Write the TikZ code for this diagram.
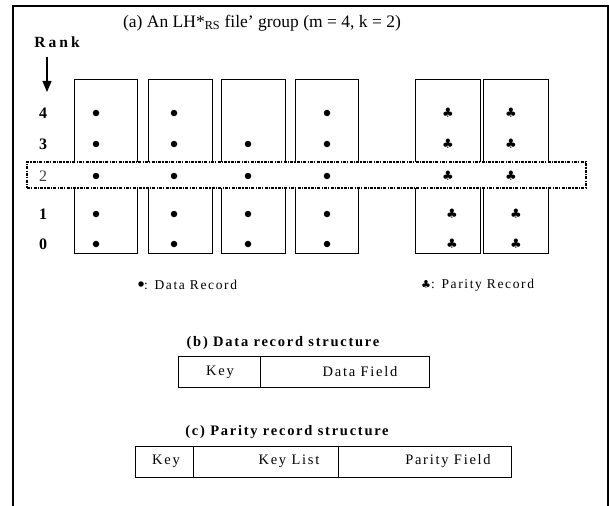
\documentclass[tikz,border=0pt]{standalone}
\usepackage{fontspec}
\setmainfont{Liberation Serif}
\newfontfamily\widefont[LetterSpace=12]{Liberation Serif}
\newfontfamily\rankfont[LetterSpace=20]{Liberation Serif}
\newfontfamily\symfont{DejaVu Sans}
\usetikzlibrary{arrows.meta}

\tikzset{
  bucket/.style={draw, line width=0.9pt, minimum width=64pt, minimum height=174pt, inner sep=0pt},
  datadot/.style={circle, fill=black, inner sep=0pt, minimum size=6.5pt},
  club/.style={inner sep=0pt, font=\symfont\fontsize{13}{13}\selectfont},
  ranklabel/.style={inner sep=0pt, font=\bfseries\fontsize{16}{16}\selectfont},
  cell/.style={draw, line width=0.9pt, inner sep=0pt, minimum height=31pt},
  celltext/.style={inner sep=0pt, font=\widefont\fontsize{14.5}{14.5}\selectfont},
  subtitle/.style={inner sep=0pt, font=\bfseries\widefont\fontsize{14.5}{14.5}\selectfont},
  legend/.style={inner sep=0pt, font=\widefont\fontsize{13.5}{13.5}\selectfont},
  rowband/.style={draw, fill=white, line width=1.3pt, dash pattern=on 3pt off 1.2pt on 1.2pt off 1.2pt}
}

\begin{document}
\begin{tikzpicture}[x=1pt, y=-1pt]
\useasboundingbox (0,0) rectangle (609,505);

% outer frame, open at the bottom
\draw[line width=1.8pt] (13,506) -- (13,6) -- (608,6) -- (608,506);

% heading of part (a)
\node[inner sep=0pt, font=\fontsize{17.5}{17.5}\selectfont] (titleA) at (262,23)
  {(a) An LH*\textsubscript{RS} file' group (m = 4, k = 2)};

% rank axis
\node[inner sep=0pt, font=\bfseries\rankfont\fontsize{15.5}{15.5}\selectfont] (rank) at (57,42) {Rank};
\coordinate (arrowTop) at (47,57);
\coordinate (arrowTip) at (47,92);
\draw[line width=1.2pt, -{Triangle[length=11pt, width=9pt]}] (arrowTop) -- (arrowTip);

% buckets: four data buckets, two parity buckets
\node[bucket, minimum width=63pt] (b1) at (105.5,166) {};
\node[bucket] (b2) at (180,166) {};
\node[bucket] (b3) at (253,166) {};
\node[bucket, minimum width=63pt] (b4) at (326.5,166) {};
\node[bucket, minimum width=65pt] (p1) at (447.5,166) {};
\node[bucket, minimum width=65pt] (p2) at (515.5,166) {};

% rank labels
\node[ranklabel] (r4) at (43,113) {4};
\node[ranklabel] (r3) at (43,144) {3};
\node[ranklabel] (r1) at (43,214) {1};
\node[ranklabel] (r0) at (43,244) {0};

% data records
\foreach \x/\n in {96/a, 174/b, 327/d}{
  \node[datadot] (d4\n) at (\x,113) {};
}
\foreach \x/\n in {96/a, 174/b, 248/c, 327/d}{
  \node[datadot] (d3\n) at (\x,144) {};
  \node[datadot] (d1\n) at (\x,214) {};
  \node[datadot] (d0\n) at (\x,244) {};
}
% parity records
\foreach \x/\n in {448/a, 511/b}{
  \node[club] (c4\n) at (\x,113) {♣};
  \node[club] (c3\n) at (\x,144) {♣};
}
\foreach \x/\n in {452/a, 516/b}{
  \node[club] (c1\n) at (\x,214) {♣};
  \node[club] (c0\n) at (\x,244) {♣};
}

% highlighted rank 2 across the group
\node[rowband, minimum width=559pt, minimum height=26pt, inner sep=0pt] (band) at (306.5,175) {};
\node[inner sep=0pt, font=\fontsize{16}{16}\selectfont, text=black!75] (r2) at (43,176) {2};
\foreach \x/\n in {96/a, 174/b, 248/c, 327/d}{
  \node[datadot] (d2\n) at (\x,176) {};
}
\foreach \x/\n in {448/a, 511/b}{
  \node[club] (c2\n) at (\x,176) {♣};
}

% legend
\node[datadot, minimum size=5.5pt] (legDot) at (141,284) {};
\node[legend, anchor=west] (legData) at (144,285) {: Data Record};
\node[club, font=\symfont\fontsize{11}{11}\selectfont] (legClub) at (426,284) {♣};
\node[legend, anchor=west] (legParity) at (431,285) {: Parity Record};

% (b) data record structure
\node[subtitle] (titleB) at (283,343) {(b) Data record structure};
\node[cell, minimum width=82pt] (dKey) at (219,372) {};
\node[cell, minimum width=169pt] (dData) at (344.5,372) {};
\node[celltext] (tKey) at (220,372) {Key};
\node[celltext] (tData) at (360,372) {Data Field};

% (c) parity record structure
\node[subtitle] (titleC) at (287,432) {(c) Parity record structure};
\node[cell, minimum width=58pt] (pKey) at (164,461.5) {};
\node[cell, minimum width=145pt] (pList) at (265.5,461.5) {};
\node[cell, minimum width=173pt] (pPar) at (424.5,461.5) {};
\node[celltext] (tpKey) at (166,461.5) {Key};
\node[celltext] (tpList) at (289,461.5) {Key List};
\node[celltext] (tpPar) at (448,461.5) {Parity Field};
\end{tikzpicture}
\end{document}
